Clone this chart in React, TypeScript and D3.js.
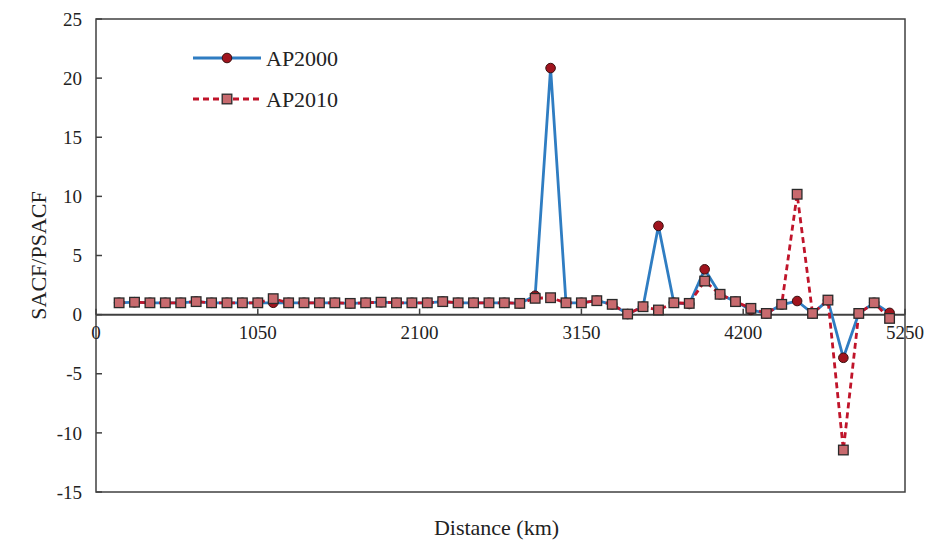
import { useEffect, useRef } from 'react';
import * as d3 from 'd3';

// distance along the route (km)
const distances = [
  150, 250, 350, 450, 550, 650, 750, 850, 950, 1050,
  1150, 1250, 1350, 1450, 1550, 1650, 1750, 1850, 1950, 2050,
  2150, 2250, 2350, 2450, 2550, 2650, 2750, 2850, 2950, 3050,
  3150, 3250, 3350, 3450, 3550, 3650, 3750, 3850, 3950, 4050,
  4150, 4250, 4350, 4450, 4550, 4650, 4750, 4850, 4950, 5050, 5150,
];

const ap2000 = [
  1.0, 1.05, 1.0, 1.0, 1.0, 1.1, 1.0, 1.0, 1.0, 1.0,
  1.0, 1.0, 1.0, 1.0, 1.0, 0.95, 1.0, 1.05, 1.0, 1.0,
  1.0, 1.1, 1.0, 1.0, 1.0, 1.0, 0.95, 1.6, 20.85, 1.0,
  1.0, 1.18, 0.87, 0.05, 0.67, 7.5, 1.0, 0.9, 3.83, 1.72,
  1.1, 0.4, 0.1, 0.85, 1.15, 0.1, 1.2, -3.65, 0.1, 1.0, 0.15,
];

const ap2010 = [
  1.0, 1.05, 1.0, 1.0, 1.0, 1.1, 1.0, 1.0, 1.0, 1.0,
  1.35, 1.0, 1.0, 1.0, 1.0, 0.95, 1.0, 1.05, 1.0, 1.0,
  1.0, 1.1, 1.0, 1.0, 1.0, 1.0, 0.95, 1.38, 1.43, 1.0,
  1.0, 1.18, 0.87, 0.05, 0.67, 0.39, 1.0, 0.95, 2.84, 1.72,
  1.1, 0.53, 0.1, 0.87, 10.18, 0.1, 1.23, -11.45, 0.1, 1.0, -0.32,
];

const xTicks = [0, 1050, 2100, 3150, 4200, 5250];
const yTicks = [-15, -10, -5, 0, 5, 10, 15, 20, 25];

const W = 936;
const H = 541;
const FONT = '"Liberation Serif", "Times New Roman", serif';

function App() {
  const svgRef = useRef<SVGSVGElement>(null);

  useEffect(() => {
    const svg = d3.select(svgRef.current);
    svg.selectAll('*').remove();

    const left = 96, right = 905, top = 19, bottom = 492;

    const x = d3.scaleLinear().domain([0, 5250]).range([left, right]);
    const y = d3.scaleLinear().domain([-15, 25]).range([bottom, top]);

    const axisColor = '#404040';

    // plot box
    svg.append('rect')
      .attr('x', left).attr('y', top)
      .attr('width', right - left).attr('height', bottom - top)
      .attr('fill', 'none').attr('stroke', axisColor).attr('stroke-width', 1.5);

    // y ticks (inside) + labels
    yTicks.forEach(t => {
      svg.append('line')
        .attr('x1', left).attr('x2', left + 6)
        .attr('y1', y(t)).attr('y2', y(t))
        .attr('stroke', axisColor).attr('stroke-width', 1.5);
      svg.append('text')
        .attr('x', left - 14).attr('y', y(t))
        .attr('dy', '0.35em')
        .attr('text-anchor', 'end')
        .attr('font-family', FONT).attr('font-size', 19).attr('fill', '#222')
        .text(t);
    });

    // zero axis line with ticks up
    svg.append('line')
      .attr('x1', left).attr('x2', right)
      .attr('y1', y(0)).attr('y2', y(0))
      .attr('stroke', axisColor).attr('stroke-width', 2);

    xTicks.forEach(t => {
      svg.append('line')
        .attr('x1', x(t)).attr('x2', x(t))
        .attr('y1', y(0)).attr('y2', y(0) - 6)
        .attr('stroke', axisColor).attr('stroke-width', 1.5);
      svg.append('text')
        .attr('x', x(t)).attr('y', y(0) + 18)
        .attr('dy', '0.35em')
        .attr('text-anchor', 'middle')
        .attr('font-family', FONT).attr('font-size', 19).attr('fill', '#222')
        .text(t);
    });

    // axis titles
    svg.append('text')
      .attr('transform', `translate(38,${(top + bottom) / 2}) rotate(-90)`)
      .attr('text-anchor', 'middle')
      .attr('dy', '0.35em')
      .attr('font-family', FONT).attr('font-size', 22).attr('fill', '#222')
      .text('SACF/PSACF');

    svg.append('text')
      .attr('x', (left + right) / 2 - 4).attr('y', 527)
      .attr('text-anchor', 'middle')
      .attr('dy', '0.35em')
      .attr('font-family', FONT).attr('font-size', 22).attr('fill', '#222')
      .text('Distance (km)');

    const blue = '#2f7dc2';
    const red = '#c0142a';

    const line = d3.line<number>()
      .x((_, i) => x(distances[i]))
      .y(d => y(d));

    // AP2000
    svg.append('path')
      .datum(ap2000)
      .attr('fill', 'none').attr('stroke', blue).attr('stroke-width', 2.8)
      .attr('stroke-linejoin', 'round')
      .attr('d', line);

    svg.append('g').selectAll('circle')
      .data(ap2000)
      .join('circle')
      .attr('cx', (_, i) => x(distances[i]))
      .attr('cy', d => y(d))
      .attr('r', 4.8)
      .attr('fill', '#a0141e').attr('stroke', '#3a1010').attr('stroke-width', 1);

    // AP2010
    svg.append('path')
      .datum(ap2010)
      .attr('fill', 'none').attr('stroke', red).attr('stroke-width', 2.8)
      .attr('stroke-dasharray', '6,4')
      .attr('d', line);

    svg.append('g').selectAll('rect')
      .data(ap2010)
      .join('rect')
      .attr('x', (_, i) => x(distances[i]) - 4.8)
      .attr('y', d => y(d) - 4.8)
      .attr('width', 9.6).attr('height', 9.6)
      .attr('fill', '#c86a6e').attr('stroke', '#2a2a2a').attr('stroke-width', 1.3);

    // legend
    const lg = svg.append('g');
    lg.append('line')
      .attr('x1', 193).attr('x2', 261).attr('y1', 58).attr('y2', 58)
      .attr('stroke', blue).attr('stroke-width', 2.8);
    lg.append('circle')
      .attr('cx', 227).attr('cy', 58).attr('r', 4.8)
      .attr('fill', '#a0141e').attr('stroke', '#3a1010').attr('stroke-width', 1);
    lg.append('text')
      .attr('x', 266).attr('y', 58).attr('dy', '0.35em')
      .attr('font-family', FONT).attr('font-size', 22).attr('fill', '#222')
      .text('AP2000');

    lg.append('line')
      .attr('x1', 193).attr('x2', 261).attr('y1', 99).attr('y2', 99)
      .attr('stroke', red).attr('stroke-width', 2.8)
      .attr('stroke-dasharray', '6,4');
    lg.append('rect')
      .attr('x', 222.2).attr('y', 94.2).attr('width', 9.6).attr('height', 9.6)
      .attr('fill', '#c86a6e').attr('stroke', '#2a2a2a').attr('stroke-width', 1.3);
    lg.append('text')
      .attr('x', 266).attr('y', 99).attr('dy', '0.35em')
      .attr('font-family', FONT).attr('font-size', 22).attr('fill', '#222')
      .text('AP2010');
  }, []);

  return (
    <svg
      ref={svgRef}
      width={W}
      height={H}
      style={{ position: 'absolute', left: 0, top: 0, background: '#fff' }}
    />
  );
}

export default App;
